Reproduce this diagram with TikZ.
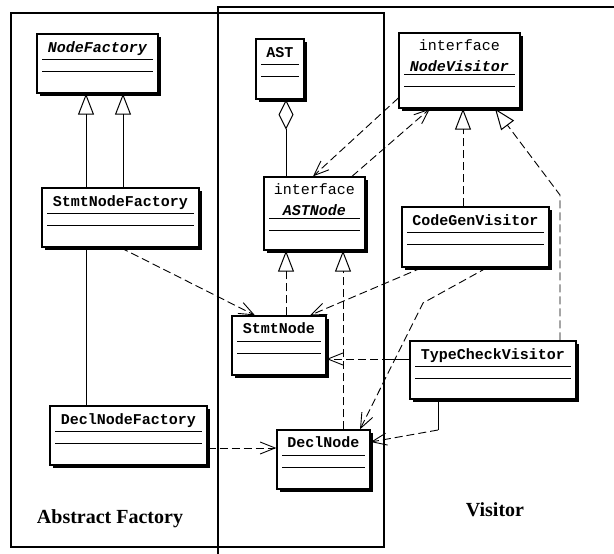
\documentclass[tikz,border=0pt]{standalone}
\usepackage{fontspec}
\setmainfont{Liberation Serif}
\setmonofont{Liberation Mono}
\usetikzlibrary{arrows.meta}
\usetikzlibrary{shadows}
\tikzset{classbox/.style={draw, line width=1.3pt, fill=white, inner sep=0pt,
  drop shadow={shadow xshift=3pt, shadow yshift=-3pt, opacity=1, fill=black}}}
\tikzset{cname/.style={font=\fontsize{15}{15}\selectfont\ttfamily\bfseries, inner sep=0pt, anchor=base}}
\tikzset{aname/.style={font=\fontsize{15}{15}\selectfont\ttfamily\bfseries\itshape, inner sep=0pt, anchor=base}}
\tikzset{stereo/.style={font=\fontsize{15}{15}\selectfont\ttfamily, inner sep=0pt, anchor=base}}
\tikzset{sepline/.style={line width=1pt}}
\tikzset{frame/.style={line width=2.6pt}}
\tikzset{conn/.style={line width=0.9pt}}
\tikzset{dep/.style={conn, dash pattern=on 8pt off 4pt, -{Straight Barb[length=15pt, width=12pt, line width=0.9pt]}}}
\tikzset{gen/.style={conn, -{Triangle[open, length=21pt, width=16pt, line width=1pt]}}}
\tikzset{realize/.style={gen, dash pattern=on 8pt off 4pt}}
\tikzset{aggr/.style={conn, {Diamond[open, length=30pt, width=15pt, line width=1pt]}-}}
\tikzset{title/.style={font=\fontsize{20}{20}\selectfont\bfseries}}
\newcommand{\seplines}[3]{%
  \draw[sepline] ([xshift=6pt,yshift=-#2]#1.north west) -- ([xshift=-6pt,yshift=-#2]#1.north east);
  \draw[sepline] ([xshift=6pt,yshift=-#3]#1.north west) -- ([xshift=-6pt,yshift=-#3]#1.north east);}

\begin{document}
\begin{tikzpicture}[x=1pt, y=-1pt]
\useasboundingbox (0,0) rectangle (614,554);

% frames
\draw[frame] (11,13) rectangle (218,547);
\draw[frame] (218,13) rectangle (384,547);
\draw[frame] (218,554) -- (218,7) -- (614,7);
\node[title] (aflabel) at (110,519) {Abstract Factory};
\node[title] (vislabel) at (495,510) {Visitor};

% classes
\node[classbox, minimum width=121pt, minimum height=59pt] (nf) at (97.5,63.5) {};
\node[classbox, minimum width=157pt, minimum height=59pt] (snf) at (120.5,217.5) {};
\node[classbox, minimum width=157pt, minimum height=59pt] (dnf) at (128.5,435.5) {};
\node[classbox, minimum width=48pt, minimum height=60pt] (ast) at (280,69) {};
\node[classbox, minimum width=101pt, minimum height=73pt] (astn) at (314.5,213.5) {};
\node[classbox, minimum width=121pt, minimum height=75pt] (nv) at (459.5,70.5) {};
\node[classbox, minimum width=147pt, minimum height=60pt] (cgv) at (475.5,237) {};
\node[classbox, minimum width=94pt, minimum height=59pt] (sn) at (279,345.5) {};
\node[classbox, minimum width=93pt, minimum height=59pt] (dn) at (323.5,459.5) {};
\node[classbox, minimum width=166pt, minimum height=58pt] (tcv) at (493,370) {};

\node[aname] (nf-t) at ([yshift=-19pt]nf.north) {NodeFactory};
\node[cname] (snf-t) at ([yshift=-19pt]snf.north) {StmtNodeFactory};
\node[cname] (dnf-t) at ([yshift=-19pt]dnf.north) {DeclNodeFactory};
\node[cname] (ast-t) at ([yshift=-19pt]ast.north) {AST};
\node[stereo] (astn-s) at ([yshift=-18pt]astn.north) {interface};
\node[aname] (astn-t) at ([yshift=-39pt]astn.north) {ASTNode};
\node[stereo] (nv-s) at ([yshift=-18pt]nv.north) {interface};
\node[aname] (nv-t) at ([yshift=-39pt]nv.north) {NodeVisitor};
\node[cname] (cgv-t) at ([yshift=-19pt]cgv.north) {CodeGenVisitor};
\node[cname] (sn-t) at ([yshift=-18pt]sn.north) {StmtNode};
\node[cname] (dn-t) at ([yshift=-18pt]dn.north) {DeclNode};
\node[cname] (tcv-t) at ([yshift=-19pt]tcv.north) {TypeCheckVisitor};

\foreach \c in {nf,snf,dnf,ast,cgv,sn,dn,tcv} {\seplines{\c}{26pt}{38pt}}
\foreach \c in {astn,nv} {\seplines{\c}{42pt}{54pt}}

% abstract factory
\draw[gen] (snf.north -| 86,0) -- (nf.south -| 86,0);
\draw[gen] (snf.north -| 123,0) -- (nf.south -| 123,0);
\draw[conn] (dnf.north -| 86,0) -- (snf.south -| 86,0);
\draw[dep] (snf.south) -- (sn.north -| 255,0);
\draw[dep] (dnf.east |- 0,448) -- (dn.west |- 0,448);

% ast
\draw[aggr] (ast.south -| 286,0) -- (astn.north -| 286,0);
\draw[realize] (sn.north -| 286,0) -- (astn.south -| 286,0);
\draw[realize] (dn.north -| 343,0) -- (astn.south -| 343,0);

% visitor
\coordinate (tcvbend) at (560,195);
\coordinate (cgvbend) at (423,303);
\coordinate (tcvl) at (390,359);
\coordinate (tcvd) at (438,430);
\draw[dep] (nv.west |- 0,98) -- (astn.north -| 313,0);
\draw[dep] (astn.north -| 352,0) -- (nv.south -| 430,0);
\draw[realize] (cgv.north -| 463,0) -- (nv.south -| 463,0);
\draw[realize] (tcv.north -| 560,0) -- (tcvbend) -- (nv.south -| 495,0);
\draw[dep] (cgv.south -| 422,0) -- (sn.north -| 310,0);
\draw[dep] (cgv.south -| 487,0) -- (cgvbend) -- (dn.north -| 360,0);
\draw[conn] (tcv.west |- tcvl) -- (tcvl);
\draw[dep] (tcvl) -- (sn.east |- tcvl);
\draw[conn] (tcv.south -| tcvd) -- (tcvd);
\draw[dep] (tcvd) -- (dn.east |- 0,442);
\end{tikzpicture}
\end{document}
